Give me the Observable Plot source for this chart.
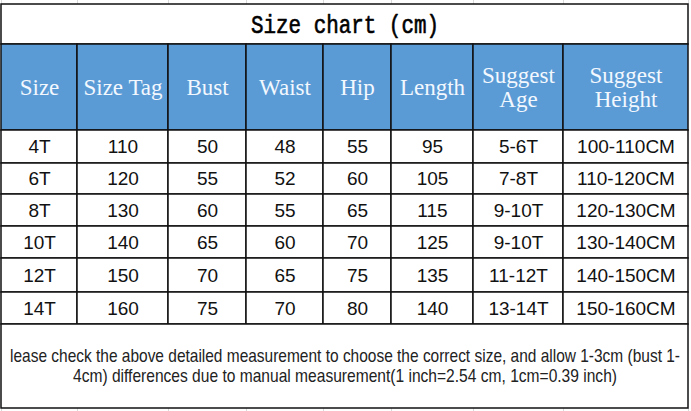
<!DOCTYPE html>
<html><head><meta charset="utf-8">
<script src="https://cdn.jsdelivr.net/npm/d3@7"></script>
<script src="https://cdn.jsdelivr.net/npm/@observablehq/plot@0.6"></script>
<style>body{margin:0;background:#fff;overflow:hidden}#chart svg{display:block}</style>
</head><body><div id="chart"></div>
<script>
// ---- data ----
const title = "Size chart (cm)";
const headers = ["Size", "Size Tag", "Bust", "Waist", "Hip", "Length", "Suggest\nAge", "Suggest\nHeight"];
const sizes = ["4T", "6T", "8T", "10T", "12T", "14T"];
const sizeTag = [110, 120, 130, 140, 150, 160];
const bust = [50, 55, 60, 65, 70, 75];
const waist = [48, 52, 55, 60, 65, 70];
const hip = [55, 60, 65, 70, 75, 80];
const lengthCm = [95, 105, 115, 125, 135, 140];
const suggestAge = ["5-6T", "7-8T", "9-10T", "9-10T", "11-12T", "13-14T"];
const suggestHeight = ["100-110CM", "110-120CM", "120-130CM", "130-140CM", "140-150CM", "150-160CM"];
const note = [
  "lease check the above detailed measurement to choose the correct size, and allow 1-3cm (bust 1-",
  "4cm) differences due to manual measurement(1 inch=2.54 cm, 1cm=0.39 inch)"
];

// ---- layout (table geometry) ----
const W = 691, H = 411;
const tableLeft = 1, tableTop = 4;
const colWidths = [76, 91, 78, 77, 68, 82, 90, 125];
const titleH = 40, headerH = 86, footerH = 84;
const dataRowHeights = [33, 31, 32, 32, 34, 32];
const titleWidth = 188;
const footerLineWidths = [670, 544];
const footerLineGap = 20;
const blue = "#5b9bd5";

const colEdges = [0, ...d3.cumsum(colWidths)].map(v => v + tableLeft);
const tableRight = colEdges[colEdges.length - 1];
const titleY = [tableTop, tableTop + titleH];
const headerY = [titleY[1], titleY[1] + headerH];
const rowEdges = [0, ...d3.cumsum(dataRowHeights)].map(v => v + headerY[1]);
const footerY = [rowEdges[rowEdges.length - 1], rowEdges[rowEdges.length - 1] + footerH];

const columns = [sizes, sizeTag, bust, waist, hip, lengthCm, suggestAge, suggestHeight];

const titleCell = [{x1: colEdges[0], x2: tableRight, y1: titleY[0], y2: titleY[1], text: title}];
const headerCells = headers.map((h, i) => ({x1: colEdges[i], x2: colEdges[i + 1], y1: headerY[0], y2: headerY[1], text: h}));
const dataCells = [];
columns.forEach((col, c) => col.forEach((v, r) => dataCells.push({
  x1: colEdges[c], x2: colEdges[c + 1], y1: rowEdges[r], y2: rowEdges[r + 1], text: String(v)
})));
const footerCell = [{x1: colEdges[0], x2: tableRight, y1: footerY[0], y2: footerY[1]}];
const footerMid = (footerY[0] + footerY[1]) / 2;
const footerLines = note.map((t, i) => ({
  x1: colEdges[0], x2: tableRight,
  y1: footerMid + (i - (note.length - 1) / 2) * footerLineGap - 0.5,
  y2: footerMid + (i - (note.length - 1) / 2) * footerLineGap - 0.5,
  text: t
}));

const cx = d => (d.x1 + d.x2) / 2;
const cy = d => (d.y1 + d.y2) / 2;

const chart = Plot.plot({
  width: W, height: H,
  margin: 0,
  x: {type: "linear", domain: [0, W], range: [0, W], axis: null},
  y: {type: "linear", domain: [0, H], range: [0, H], axis: null},
  style: {background: "#fff"},
  marks: [
    // faint spreadsheet gridlines around the table
    Plot.ruleX(colEdges, {y1: 0, y2: tableTop, stroke: "#d9d9d9", strokeWidth: 1}),
    Plot.ruleX(colEdges, {y1: footerY[1], y2: H, stroke: "#d9d9d9", strokeWidth: 1}),
    Plot.rect(titleCell, {x1: "x1", x2: "x2", y1: "y1", y2: "y2", fill: "white", stroke: "#111", strokeWidth: 1.5}),
    Plot.rect(headerCells, {x1: "x1", x2: "x2", y1: "y1", y2: "y2", fill: blue, stroke: "#111", strokeWidth: 1.5}),
    Plot.rect(dataCells, {x1: "x1", x2: "x2", y1: "y1", y2: "y2", fill: "white", stroke: "#111", strokeWidth: 1.5}),
    Plot.rect(footerCell, {x1: "x1", x2: "x2", y1: "y1", y2: "y2", fill: "white", stroke: "#111", strokeWidth: 1.5}),
    Plot.text(titleCell, {x: cx, y: d => cy(d) + 0.5, text: "text", fontSize: 25, fontFamily: "Liberation Mono, monospace", fill: "#000", stroke: "#000", strokeWidth: 0.6}),
    Plot.text(headerCells, {x: cx, y: cy, text: "text", fontSize: 23, lineHeight: 1.05, fontFamily: "Liberation Serif, serif", fill: "#f3f8ff"}),
    Plot.text(dataCells, {x: cx, y: cy, text: "text", fontSize: 19, fontFamily: "Liberation Sans, Arial, sans-serif", fill: "#111"}),
    Plot.text(footerLines, {x: cx, y: cy, text: "text", fontSize: 19, fontFamily: "Liberation Sans, Arial, sans-serif", fill: "#222"})
  ]
});
// condense the title and the two footer lines to the widths they occupy in the reference
d3.select(chart).selectAll("text").each(function () {
  const i = note.indexOf(this.textContent);
  const len = i >= 0 ? footerLineWidths[i] : this.textContent === title ? titleWidth : null;
  if (len != null) {
    this.setAttribute("textLength", len);
    this.setAttribute("lengthAdjust", "spacingAndGlyphs");
  }
});
document.getElementById("chart").append(chart);
</script>
</body></html>
